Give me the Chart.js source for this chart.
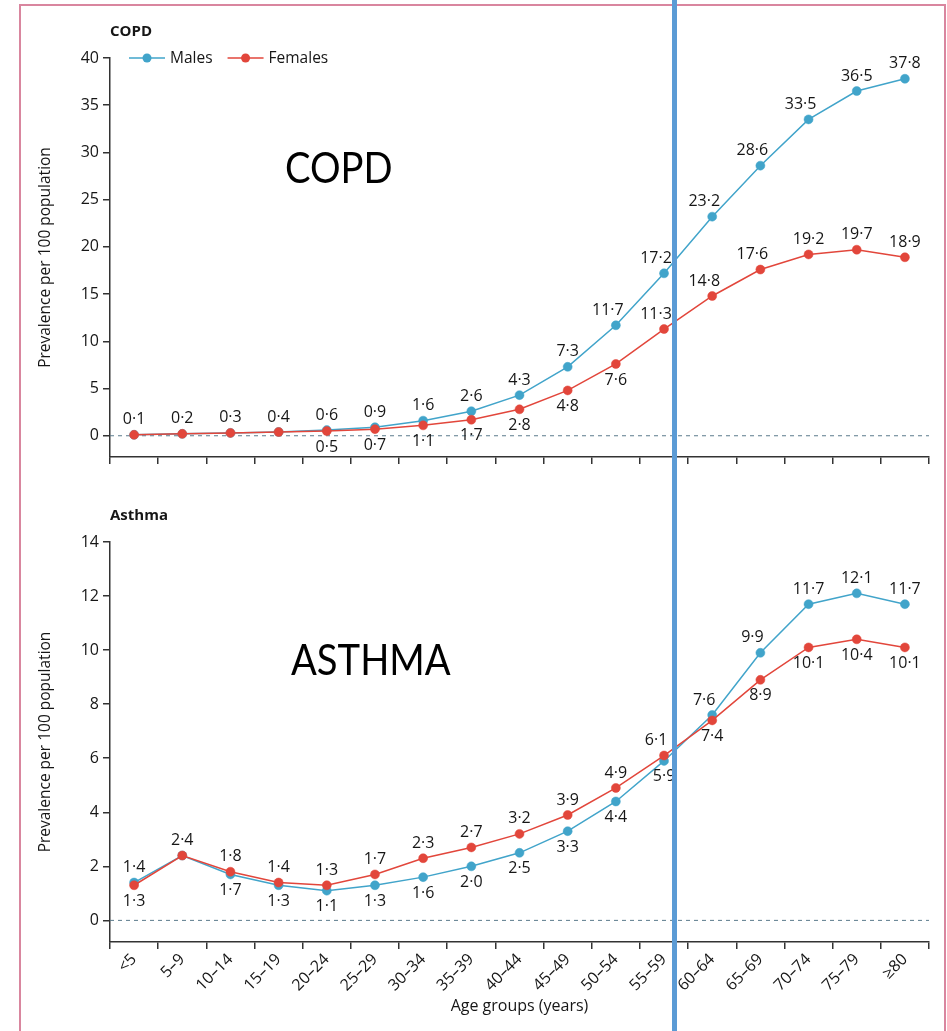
<!DOCTYPE html>
<html>
<head>
<meta charset="utf-8">
<script src="https://cdn.jsdelivr.net/npm/chart.js@4.4.1/dist/chart.umd.min.js"></script>
<style>
  html, body { margin: 0; padding: 0; background: #fff; }
  #page { position: relative; width: 947px; height: 1031px; overflow: hidden; }
  #frame { position: absolute; left: 19px; top: 4px; width: 927px; height: 1100px; border: 2px solid #d9869f; box-sizing: border-box; }
  .panel { position: absolute; left: 0; }
  #copdCanvas { top: 0; }
  #asthmaCanvas { top: 480px; }
  #divider { position: absolute; left: 672px; top: 0; width: 5px; height: 1031px; background: #5b9bd5; }
</style>
</head>
<body>
<div id="page">
  <div id="frame"></div>
  <canvas id="copdCanvas" class="panel" width="947" height="480"></canvas>
  <canvas id="asthmaCanvas" class="panel" width="947" height="551"></canvas>
  <div id="divider"></div>
</div>
<script>
const ageGroups = ['<5', '5–9', '10–14', '15–19', '20–24', '25–29', '30–34', '35–39', '40–44',
  '45–49', '50–54', '55–59', '60–64', '65–69', '70–74', '75–79', '≥80'];

// prevalence per 100 population
const copdMales = [0.1, 0.2, 0.3, 0.4, 0.6, 0.9, 1.6, 2.6, 4.3, 7.3, 11.7, 17.2, 23.2, 28.6, 33.5, 36.5, 37.8];
const copdFemales = [0.1, 0.2, 0.3, 0.4, 0.5, 0.7, 1.1, 1.7, 2.8, 4.8, 7.6, 11.3, 14.8, 17.6, 19.2, 19.7, 18.9];
const asthmaMales = [1.4, 2.4, 1.7, 1.3, 1.1, 1.3, 1.6, 2.0, 2.5, 3.3, 4.4, 5.9, 7.6, 9.9, 11.7, 12.1, 11.7];
const asthmaFemales = [1.3, 2.4, 1.8, 1.4, 1.3, 1.7, 2.3, 2.7, 3.2, 3.9, 4.9, 6.1, 7.4, 8.9, 10.1, 10.4, 10.1];

const copdTicks = [0, 5, 10, 15, 20, 25, 30, 35, 40];
const asthmaTicks = [0, 2, 4, 6, 8, 10, 12, 14];

// where each value label sits: u = above, d = below, ul = above-left, - = not shown
const copdMalePos = ['u', 'u', 'u', 'u', 'u', 'u', 'u', 'u', 'u', 'u', 'ul', 'ul', 'ul', 'ul', 'ul', 'u', 'u'];
const copdFemalePos = ['-', '-', '-', '-', 'd', 'd', 'd', 'd', 'd', 'd', 'd', 'ul', 'ul', 'ul', 'u', 'u', 'u'];
const asthmaMalePos = ['u', 'u', 'd', 'd', 'd', 'd', 'd', 'd', 'd', 'd', 'd', 'd', 'ul', 'ul', 'u', 'u', 'u'];
const asthmaFemalePos = ['d', '-', 'u', 'u', 'u', 'u', 'u', 'u', 'u', 'u', 'u', 'ul', 'd', 'd', 'd', 'd', 'd'];

const MALE = '#41a4ca';
const FEMALE = '#e2463b';
const INK = '#161616';
const FONT = "'Open Sans', 'Noto Sans', sans-serif";

const fmt = (v) => v.toFixed(1).replace('.', '·');

const labelOffsets = { u: [0, -15], d: [0, 16], ul: [-8, -15] };

const panelDecor = {
  id: 'panelDecor',
  beforeDatasetsDraw(chart) {
    const ctx = chart.ctx;
    const { left, right } = chart.chartArea;
    const y0 = chart.scales.y.getPixelForValue(0);
    ctx.save();
    ctx.strokeStyle = '#5b7b8c';
    ctx.lineWidth = 1;
    ctx.setLineDash([4, 4]);
    ctx.beginPath();
    ctx.moveTo(left, y0);
    ctx.lineTo(right, y0);
    ctx.stroke();
    ctx.restore();
  },
  afterDatasetsDraw(chart) {
    const ctx = chart.ctx;
    ctx.save();
    ctx.font = `16px ${FONT}`;
    ctx.fillStyle = INK;
    ctx.textAlign = 'center';
    ctx.textBaseline = 'middle';
    chart.data.datasets.forEach((ds, i) => {
      const meta = chart.getDatasetMeta(i);
      meta.data.forEach((pt, j) => {
        const off = labelOffsets[ds.labelPos[j]];
        if (!off) return;
        ctx.fillText(fmt(ds.data[j]), pt.x + off[0], pt.y + off[1]);
      });
    });
    ctx.restore();
  },
  afterDraw(chart, args, opts) {
    const ctx = chart.ctx;
    const { left, top } = chart.chartArea;
    ctx.save();
    // panel heading
    ctx.fillStyle = INK;
    ctx.font = `bold 15px ${FONT}`;
    ctx.textBaseline = 'alphabetic';
    ctx.fillText(opts.heading, left, top - 22);

    // large caption, slightly condensed
    ctx.save();
    ctx.fillStyle = '#000';
    ctx.font = "42px Lato, 'Open Sans', sans-serif";
    ctx.translate(opts.captionX, opts.captionY);
    ctx.scale(0.91, 1);
    ctx.fillText(opts.caption, 0, 0);
    ctx.restore();

    if (opts.legend) {
      let x = left + 19;
      const y = top;
      ctx.font = `15.5px ${FONT}`;
      ctx.textBaseline = 'middle';
      chart.data.datasets.forEach((ds) => {
        ctx.strokeStyle = ds.borderColor;
        ctx.lineWidth = 1.5;
        ctx.beginPath();
        ctx.moveTo(x, y);
        ctx.lineTo(x + 36, y);
        ctx.stroke();
        ctx.fillStyle = ds.pointBackgroundColor;
        ctx.beginPath();
        ctx.arc(x + 18, y, 4.5, 0, Math.PI * 2);
        ctx.fill();
        ctx.fillStyle = INK;
        ctx.fillText(ds.label, x + 41, y + 1);
        x += 41 + ctx.measureText(ds.label).width + 15;
      });
    }
    ctx.restore();
  }
};

function series(label, data, color, labelPos, order) {
  return {
    label, data, labelPos, order,
    borderColor: color,
    backgroundColor: color,
    pointBackgroundColor: color,
    pointBorderColor: color,
    borderWidth: 1.5,
    pointRadius: 4.5,
    pointBorderWidth: 0.5,
    tension: 0
  };
}

function buildChart(canvas, opts) {
  return new Chart(canvas, {
    type: 'line',
    data: {
      labels: ageGroups,
      datasets: [
        series('Males', opts.males, MALE, opts.malePos, 1),
        series('Females', opts.females, FEMALE, opts.femalePos, 0)
      ]
    },
    plugins: [panelDecor],
    options: {
      responsive: false,
      animation: false,
      devicePixelRatio: 1,
      layout: { padding: { top: opts.padTop, left: 32, right: 18, bottom: opts.padBottom } },
      plugins: {
        legend: { display: false },
        tooltip: { enabled: false },
        panelDecor: {
          heading: opts.heading,
          caption: opts.caption,
          captionX: opts.captionX,
          captionY: opts.captionY,
          legend: opts.legend
        }
      },
      scales: {
        x: {
          offset: true,
          grid: { offset: true, drawOnChartArea: false, tickLength: 7, color: '#333', lineWidth: 1.5 },
          border: { color: '#333', width: 1.5 },
          ticks: {
            display: opts.showAges,
            autoSkip: false,
            maxRotation: 45,
            minRotation: 45,
            padding: 1,
            color: INK,
            font: { family: FONT, size: 16 }
          },
          title: {
            display: opts.showAges,
            text: 'Age groups (years)',
            color: INK,
            font: { family: FONT, size: 16 }
          },
          afterFit: (s) => { s.height = opts.xHeight; }
        },
        y: {
          min: opts.yMin,
          max: opts.yMax,
          grid: { drawOnChartArea: false, tickLength: 7, color: '#333', lineWidth: 1.5 },
          border: { color: '#333', width: 1.5 },
          ticks: { padding: 4, color: INK, font: { family: FONT, size: 16 } },
          title: {
            display: true,
            text: 'Prevalence per 100 population',
            color: INK,
            font: { family: FONT, size: 15.5 }
          },
          afterBuildTicks: (s) => { s.ticks = opts.ticks.map((v) => ({ value: v })); },
          afterFit: (s) => { s.width = 78; }
        }
      }
    }
  });
}

buildChart(document.getElementById('copdCanvas'), {
  males: copdMales, females: copdFemales,
  malePos: copdMalePos, femalePos: copdFemalePos,
  ticks: copdTicks, yMin: -2.25, yMax: 40,
  heading: 'COPD', caption: 'COPD', captionX: 285, captionY: 183,
  legend: true, showAges: false,
  padTop: 58, padBottom: 0, xHeight: 23
});

buildChart(document.getElementById('asthmaCanvas'), {
  males: asthmaMales, females: asthmaFemales,
  malePos: asthmaMalePos, femalePos: asthmaFemalePos,
  ticks: asthmaTicks, yMin: -0.8, yMax: 14,
  heading: 'Asthma', caption: 'ASTHMA', captionX: 291, captionY: 195,
  legend: false, showAges: true,
  padTop: 62, padBottom: 11, xHeight: 78
});
</script>
</body>
</html>
